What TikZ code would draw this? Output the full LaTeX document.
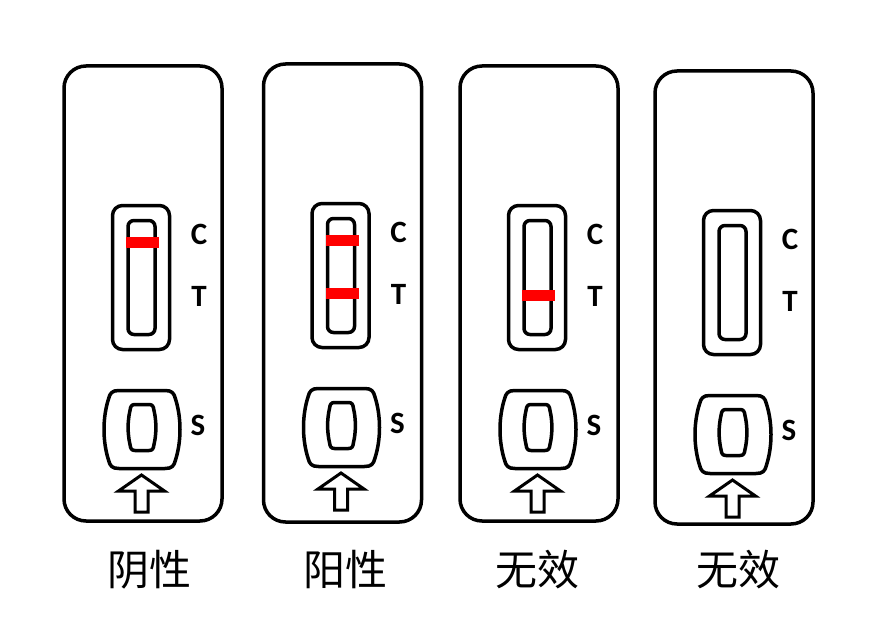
\documentclass[tikz,border=0pt]{standalone}
\usepackage{fontspec}
\setmainfont{Carlito}
\newfontfamily\cjk{Noto Sans CJK SC}
\begin{document}
\begin{tikzpicture}[x=1pt,y=-1pt,
  box/.style={line width=3.5pt, draw=black, line join=round},
  arrowshape/.style={line width=3pt, draw=black, line join=miter},
  lbl/.style={font=\bfseries\fontsize{31}{31}\selectfont, inner sep=0pt},
  res/.style={font=\cjk\fontsize{42}{42}\selectfont, inner sep=0pt},
  redline/.style={fill=red, draw=none}]
\useasboundingbox (0,0) rectangle (880,639);
\fill[white] (0,0) rectangle (880,639);
\foreach \i/\cx/\ty/\h/\cl/\tl/\lab/\lx in {1/143/66/455/1/0/阴性/149, 2/342.5/64/458/1/1/阳性/345, 3/539/66/455/0/1/无效/537, 4/734/71/453/0/0/无效/738} {
  \begin{scope}[shift={(\cx,\ty)}]
    % cassette body
    \draw[box, rounded corners=22pt] (-79,0) rectangle (79,\h);
    % result window
    \draw[box, rounded corners=10pt] (-30.5,139.5) rectangle (26.5,283.5);
    % strip
    \draw[box, rounded corners=6pt] (-15,154.5) rectangle (12,268.5);
    \ifnum\cl=1 \fill[redline] (-17,171) rectangle (16,182); \fi
    \ifnum\tl=1 \fill[redline] (-17,224) rectangle (16,235); \fi
    % sample well
    \begin{scope}[xshift=-1pt]
      \draw[box] (-23,324.5) -- (23,324.5)
        .. controls (30,324.5) and (32,327) .. (33.5,333)
        .. controls (39.5,352) and (39.5,375) .. (33.5,394)
        .. controls (32,400) and (30,402.5) .. (23,402.5)
        -- (-23,402.5)
        .. controls (-30,402.5) and (-32,400) .. (-33.5,394)
        .. controls (-39.5,375) and (-39.5,352) .. (-33.5,333)
        .. controls (-32,327) and (-30,324.5) .. (-23,324.5) -- cycle;
      \draw[box] (-7,338.5) -- (7,338.5)
        .. controls (10.5,338.5) and (11.5,340.5) .. (12,344.5)
        .. controls (14.5,355) and (14.5,368) .. (12,378.5)
        .. controls (11.5,382.5) and (10.5,384.5) .. (7,384.5)
        -- (-7,384.5)
        .. controls (-10.5,384.5) and (-11.5,382.5) .. (-12,378.5)
        .. controls (-14.5,368) and (-14.5,355) .. (-12,344.5)
        .. controls (-11.5,340.5) and (-10.5,338.5) .. (-7,338.5) -- cycle;
    \end{scope}
    % arrow
    \begin{scope}[xshift=-1.5pt]
      \draw[arrowshape] (0,409) -- (23,425) -- (6.5,425) -- (6.5,446) -- (-6.5,446) -- (-6.5,425) -- (-23,425) -- cycle;
    \end{scope}
    % letters
    \node[lbl] (C\i) at (56,168) {C};
    \node[lbl] (T\i) at (56,230) {T};
    \node[lbl] (S\i) at (55,359) {S};
  \end{scope}
  \node[res] (lab\i) at (\lx,570) {\lab};
}
\end{tikzpicture}
\end{document}
